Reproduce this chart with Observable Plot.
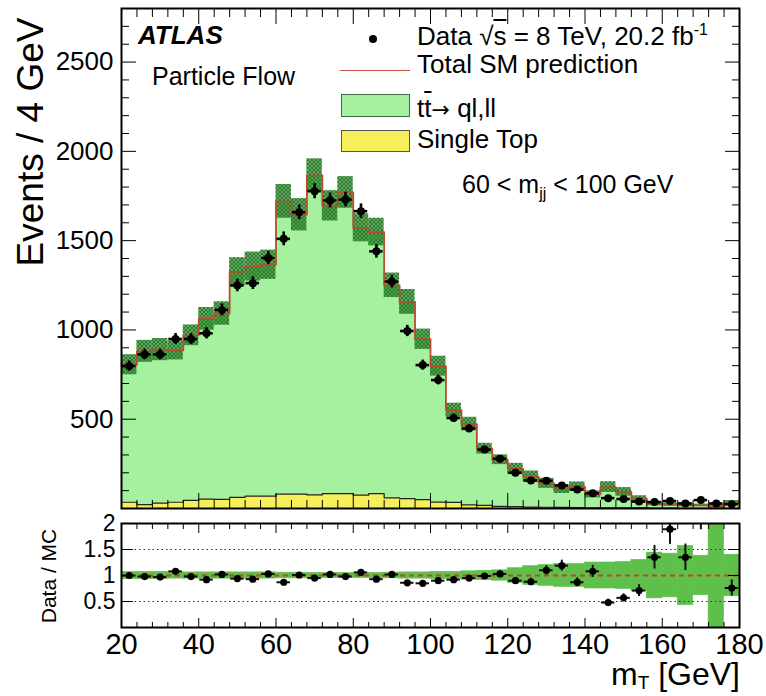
<!DOCTYPE html>
<html><head><meta charset="utf-8">
<script src="https://cdn.jsdelivr.net/npm/d3@7"></script>
<script src="https://cdn.jsdelivr.net/npm/@observablehq/plot@0.6"></script>
<style>
body{margin:0;background:#fff;}
#wrap{position:relative;width:766px;height:696px;font-family:"Liberation Sans",Arial,Helvetica,sans-serif;color:#000;overflow:hidden}
#wrap svg{position:absolute;left:0;font-family:"Liberation Sans",Arial,sans-serif;overflow:visible}
.t{position:absolute;white-space:nowrap;line-height:1}
.ov{text-decoration:overline}
sub,sup{line-height:0}
</style></head><body><div id="wrap"></div>
<script>
// ---- data ----
const binLow  = [20,24,28,32,36,40,44,48,52,56,60,64,68,72,76,80,84,88,92,96,100,104,108,112,116,120,124,128,132,136,140,144,148,152,156,160,164,168,172,176];
const binHigh = [24,28,32,36,40,44,48,52,56,60,64,68,72,76,80,84,88,92,96,100,104,108,112,116,120,124,128,132,136,140,144,148,152,156,160,164,168,172,176,180];
const dataCounts = [798,863,863,949,949,981,1112,1249,1262,1403,1510,1659,1777,1725,1730,1665,1440,1271,994,803,719,507,448,330,279,200,157,155,129,106,85,58,53,39,36,42,28,47,28,24];
const totalSM    = [805,880,890,885,970,1062,1092,1325,1355,1365,1720,1645,1865,1695,1770,1572,1548,1250,1157,948,797,551,473,335,273,222,178,141,108,122,79,120,93,55,27,22,21,18,10,32];
const singleTop  = [35,22,30,35,45,52,51,62,69,69,80,80,76,83,83,75,83,60,55,50,36,34,20,17,12,10,8,7,6,5,4,4,3,3,2,2,1,1,1,1];
const mcRelUnc   = [.07,.07,.07,.06,.06,.06,.06,.06,.06,.06,.055,.055,.05,.05,.05,.05,.05,.055,.06,.06,.07,.07,.08,.09,.10,.14,.18,.20,.22,.22,.25,.25,.26,.30,.44,.42,.57,.38,1.2,.40];
const ratioValues= [1.0,.98,.97,1.08,.98,.92,1.02,.94,.93,1.03,.87,1.01,.95,1.02,.98,1.06,.93,1.02,.86,.85,.90,.92,.95,.99,1.03,.90,.88,1.10,1.19,.87,1.08,.48,.57,.71,1.35,1.89,1.35,2.2,2.8,.76];
const yMajorTicks = [500,1000,1500,2000,2500];
const xMajorTicks = [20,40,60,80,100,120,140,160,180];
const ratioTicks  = [0.5,1,1.5,2];
const ratioGrid   = [0.5,1.5];

const bins = binLow.map((lo,i)=>({lo, hi:binHigh[i], c:(lo+binHigh[i])/2, data:dataCounts[i], mc:totalSM[i], st:singleTop[i], unc:mcRelUnc[i], ratio:ratioValues[i]}));
const stepOf = key => bins.map(d=>({x:d.lo, y:d[key]})).concat([{x:bins[bins.length-1].hi, y:bins[bins.length-1][key]}]);
const yMinor = d3.range(100, 2800, 100).filter(v=>v%500);
const xMinor = d3.range(20, 181, 4).filter(v=>v%20);
const HATCH = "#123456";
const plain = d => String(d);

const main = Plot.plot({
  width:766, height:516, marginLeft:121, marginRight:27, marginTop:8, marginBottom:8,
  x:{domain:[20,180]}, y:{domain:[0,2800]},
  style:{background:"transparent"},
  marks:[
    Plot.areaY(stepOf("mc"),{x:"x",y:"y",curve:"step-after",fill:"#a6f1a0"}),
    Plot.areaY(stepOf("st"),{x:"x",y:"y",curve:"step-after",fill:"#f6ef5c"}),
    Plot.line(stepOf("st"),{x:"x",y:"y",curve:"step-after",stroke:"#222",strokeWidth:1.2}),
    Plot.rect(bins,{x1:"lo",x2:"hi",y1:d=>d.mc*(1-d.unc),y2:d=>d.mc*(1+d.unc),fill:HATCH}),
    Plot.line(stepOf("mc"),{x:"x",y:"y",curve:"step-after",stroke:"#b44e2c",strokeWidth:1.8}),
    Plot.ruleX(bins,{x:"c",y1:d=>d.data-Math.sqrt(d.data),y2:d=>d.data+Math.sqrt(d.data),stroke:"#000",strokeWidth:2.6}),
    Plot.ruleY(bins,{y:"data",x1:"lo",x2:"hi",insetLeft:1,insetRight:1,stroke:"#000",strokeWidth:2.6}),
    Plot.dot(bins,{x:"c",y:"data",r:4,fill:"#000"}),
    Plot.axisY(yMajorTicks,{anchor:"left",tickSize:-15,fill:"none",label:null}),
    Plot.axisY(yMinor,{anchor:"left",tickSize:-8,fill:"none",label:null}),
    Plot.axisY(yMajorTicks,{anchor:"right",tickSize:-15,fill:"none",label:null}),
    Plot.axisY(yMinor,{anchor:"right",tickSize:-8,fill:"none",label:null}),
    Plot.axisX(xMajorTicks,{anchor:"top",tickSize:-15,fill:"none",label:null}),
    Plot.axisX(xMinor,{anchor:"top",tickSize:-8,fill:"none",label:null}),
    Plot.axisX(xMajorTicks,{anchor:"bottom",tickSize:-15,fill:"none",label:null}),
    Plot.axisX(xMinor,{anchor:"bottom",tickSize:-8,fill:"none",label:null}),
    Plot.axisY(yMajorTicks,{anchor:"left",tickSize:0,tickPadding:8,fontSize:26,tickFormat:plain,label:null}),
    Plot.frame({stroke:"#000",strokeWidth:2})
  ]
});
main.style.top = "0px";

const ratio = Plot.plot({
  width:766, height:181, marginLeft:121, marginRight:27, marginTop:8, marginBottom:69,
  x:{domain:[20,180]}, y:{domain:[0,2]},
  style:{background:"transparent"},
  marks:[
    Plot.rect(bins,{x1:"lo",x2:"hi",y1:d=>1-d.unc,y2:d=>1+d.unc,fill:"#5ebf4a",stroke:"#5ebf4a",strokeWidth:0.6,clip:true}),
    Plot.ruleY(ratioGrid,{stroke:"#333",strokeDasharray:"1.5,3",strokeWidth:1.2}),
    Plot.ruleY([1],{stroke:"#c0452a",strokeDasharray:"5,4",strokeWidth:2}),
    Plot.ruleX(bins,{x:"c",y1:d=>d.ratio*(1-1/Math.sqrt(d.data)),y2:d=>d.ratio*(1+1/Math.sqrt(d.data)),stroke:"#111",strokeWidth:2,clip:true}),
    Plot.ruleY(bins,{y:"ratio",x1:"lo",x2:"hi",insetLeft:1,insetRight:1,stroke:"#111",strokeWidth:2,clip:true}),
    Plot.dot(bins,{x:"c",y:"ratio",r:3.6,fill:"#000",clip:true}),
    Plot.axisY(ratioTicks,{anchor:"left",tickSize:-12,fill:"none",label:null}),
    Plot.axisY(ratioTicks,{anchor:"right",tickSize:-12,fill:"none",label:null}),
    Plot.axisX(xMajorTicks,{anchor:"top",tickSize:-9,fill:"none",label:null}),
    Plot.axisX(xMinor,{anchor:"top",tickSize:-5,fill:"none",label:null}),
    Plot.axisX(xMajorTicks,{anchor:"bottom",tickSize:-9,fill:"none",label:null}),
    Plot.axisX(xMinor,{anchor:"bottom",tickSize:-5,fill:"none",label:null}),
    Plot.axisY(ratioTicks,{anchor:"left",tickSize:0,tickPadding:6,fontSize:23,tickFormat:plain,label:null}),
    Plot.axisX(xMajorTicks,{anchor:"bottom",tickSize:0,tickPadding:6,fontSize:29,tickFormat:plain,label:null}),
    Plot.frame({stroke:"#000",strokeWidth:2})
  ]
});
ratio.style.top = "515px";

const wrap = document.getElementById("wrap");
wrap.appendChild(main);
wrap.appendChild(ratio);

// hatch pattern for the MC uncertainty band
const defs = d3.select(main).insert("defs",":first-child");
const pat = defs.append("pattern").attr("id","hatch").attr("patternUnits","userSpaceOnUse").attr("width",4).attr("height",4);
pat.append("path").attr("d","M0,0L4,4M4,0L0,4").attr("stroke","#2a7f2a").attr("stroke-width",1.7);
d3.select(main).selectAll(`[fill="${HATCH}"]`).attr("fill","url(#hatch)");

// text and legend overlays
const html = `
<div class="t" style="left:138px;top:22px;font-size:26px;font-weight:bold;font-style:italic">ATLAS</div>
<div class="t" style="left:152px;top:64px;font-size:25px">Particle Flow</div>
<div style="position:absolute;left:369px;top:35px;width:8px;height:8px;border-radius:50%;background:#000"></div>
<div class="t" style="left:417px;top:24px;font-size:26px;line-height:0.95">Data <span>&radic;<span class="ov">s</span></span> = 8 TeV, 20.2 fb<sup style="font-size:16px;vertical-align:10px">-1</sup></div>
<div style="position:absolute;left:340px;top:70px;width:70px;height:0;border-top:1.5px solid #c0503a"></div>
<div class="t" style="left:417px;top:52px;font-size:26px;line-height:0.95">Total SM prediction</div>
<div style="position:absolute;left:341px;top:94px;width:67px;height:21px;background:#a6f1a0;border:1.5px solid #3d6b3d"></div>
<div class="t" style="left:417px;top:96px;font-size:26px;line-height:0.95">t<span class="ov">t</span><span style="font-family:'DejaVu Sans';font-size:22px">&rarr;</span> ql,ll</div>
<div class="t" style="left:341px;top:130px;width:67px;height:20px;background:#f6ef5c;border:1.5px solid #555"></div>
<div class="t" style="left:417px;top:127px;font-size:26px;line-height:0.95">Single Top</div>
<div class="t" style="left:462px;top:172px;font-size:25px">60 &lt; m<sub style="font-size:16px">jj</sub> &lt; 100 GeV</div>
<div class="t" style="left:30px;top:142px;font-size:37px;transform:translate(-50%,-50%) rotate(-90deg)">Events / 4 GeV</div>
<div class="t" style="left:48px;top:576px;font-size:21px;transform:translate(-50%,-50%) rotate(-90deg)">Data / MC</div>
<div class="t" style="right:26px;top:662px;font-size:32px;line-height:0.8">m<span style="font-size:19px;vertical-align:-4px;line-height:0">T</span> [GeV]</div>
`;
wrap.insertAdjacentHTML("beforeend", html);
</script></body></html>
